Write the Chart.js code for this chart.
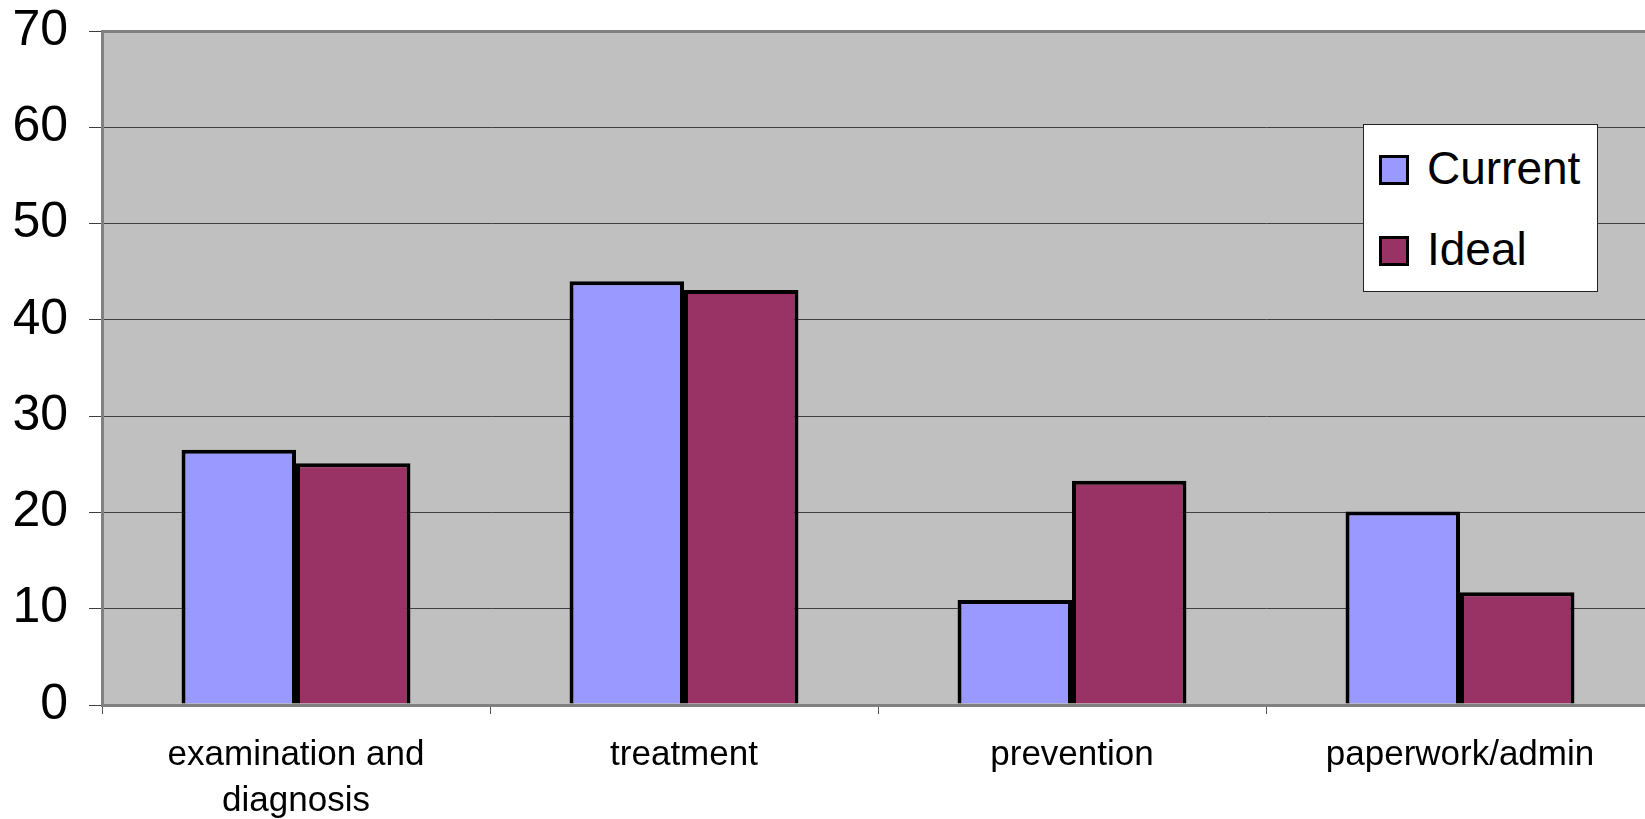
<!DOCTYPE html>
<html>
<head>
<meta charset="utf-8">
<script src="https://cdn.jsdelivr.net/npm/chart.js@4"></script>
<style>
  body { margin: 0; overflow: hidden; background: #fff; }
  #wrap { position: relative; width: 1660px; height: 819px; }
  #legend {
    position: absolute; left: 1363px; top: 124px; width: 233px; height: 166px;
    background: #fff; border: 1px solid #222;
    font-family: "Liberation Sans", Arial, sans-serif; font-size: 46px; color: #000;
  }
  #legend .item { position: absolute; left: 15px; height: 40px; line-height: 40px; white-space: nowrap; }
  #legend .box { display: inline-block; width: 24px; height: 24px; border: 3px solid #000; vertical-align: middle; margin-right: 18px; position: relative; top: -2px; }
</style>
</head>
<body>
<div id="wrap">
  <canvas id="myChart" width="1660" height="819"></canvas>
  <div id="legend"></div>
</div>
<script>
var categories = [["examination and", "diagnosis"], "treatment", "prevention", "paperwork/admin"];
var currentValues = [26.5, 44.0, 10.9, 20.1];
var idealValues = [25.1, 43.1, 23.3, 11.7];
var yTicks = [0, 10, 20, 30, 40, 50, 60, 70];

var fontName = '"Liberation Sans", Arial, sans-serif';

// grey plot area like the old excel charts
var plotBack = {
    id: 'plotBack',
    beforeDraw: function(chart) {
        var a = chart.chartArea;
        var ctx = chart.ctx;
        ctx.save();
        ctx.fillStyle = '#c0c0c0';
        ctx.fillRect(a.left, a.top, a.right - a.left, a.bottom - a.top);
        ctx.restore();
    }
};

window.onload = function() {
    var ctx = document.getElementById('myChart');
    var myChart = new Chart(ctx, {
        type: 'bar',
        data: {
            labels: categories,
            datasets: [{
                label: 'Current',
                data: currentValues,
                backgroundColor: '#9999ff',
                borderColor: '#000',
                borderWidth: 4,
                categoryPercentage: 0.59,
                barPercentage: 1.0
            }, {
                label: 'Ideal',
                data: idealValues,
                backgroundColor: '#993366',
                borderColor: '#000',
                borderWidth: 4,
                categoryPercentage: 0.59,
                barPercentage: 1.0
            }]
        },
        options: {
            responsive: false,
            animation: false,
            layout: { padding: { left: 14, right: 6, top: 31, bottom: 0 } },
            plugins: {
                legend: { display: false },
                tooltip: { enabled: false }
            },
            scales: {
                x: {
                    afterFit: function(axis) {
                        axis.height = 114;
                        axis.paddingLeft = 0;
                        axis.paddingRight = 0;
                    },
                    grid: { drawOnChartArea: false, offset: true, tickLength: 9, color: '#555', lineWidth: 1 },
                    border: { color: '#808080', width: 3 },
                    ticks: {
                        color: '#000',
                        font: { family: fontName, size: 35, lineHeight: 1.32 },
                        padding: 18,
                        maxRotation: 0,
                        autoSkip: false
                    }
                },
                y: {
                    min: 0,
                    max: 70,
                    afterBuildTicks: function(axis) {
                        axis.ticks = yTicks.map(function(v) { return { value: v }; });
                    },
                    afterFit: function(axis) {
                        axis.width = 88;
                        axis.paddingTop = 0;
                        axis.paddingBottom = 0;
                    },
                    grid: {
                        tickLength: 13,
                        color: function(c) { return (c.tick && (c.tick.value === 70 || c.tick.value === 0)) ? '#808080' : '#404040'; },
                        lineWidth: function(c) { return (c.tick && (c.tick.value === 70 || c.tick.value === 0)) ? 3 : 1; },
                        tickColor: '#404040',
                        tickWidth: 1
                    },
                    border: { color: '#808080', width: 3 },
                    ticks: {
                        color: '#000',
                        font: { family: fontName, size: 50 },
                        padding: 21
                    }
                }
            }
        },
        plugins: [plotBack]
    });

    // legend built from the datasets
    var legend = document.getElementById('legend');
    var tops = [23, 104];
    myChart.data.datasets.forEach(function(ds, i) {
        var item = document.createElement('div');
        item.className = 'item';
        item.style.top = tops[i] + 'px';
        var box = document.createElement('span');
        box.className = 'box';
        box.style.background = ds.backgroundColor;
        item.appendChild(box);
        item.appendChild(document.createTextNode(ds.label));
        legend.appendChild(item);
    });
};
</script>
</body>
</html>
